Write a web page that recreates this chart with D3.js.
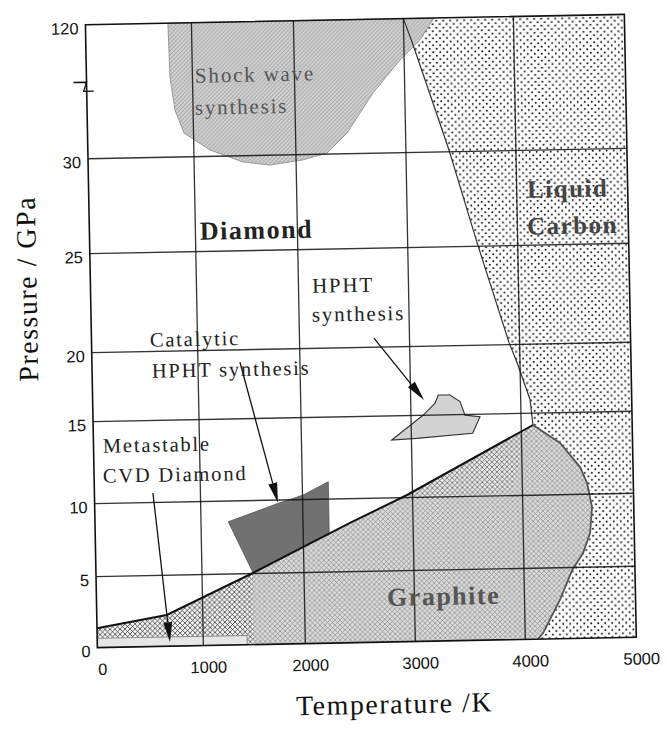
<!DOCTYPE html>
<html><head><meta charset="utf-8">
<script src="https://cdn.jsdelivr.net/npm/d3@7"></script>
<style>body{margin:0;background:#fff}</style>
</head><body><svg id="c" width="668" height="730"></svg>
<script>
// ---- data (Temperature K, Pressure GPa) ----
const xTicks = [0, 1000, 2000, 3000, 4000, 5000];
const yTicks = [0, 5, 10, 15, 20, 25, 30, 120];
const xGrid = [1000, 2000, 3000, 4000];
const yGrid = [5, 10, 15, 20, 25, 30];
const graphiteBoundary = [[0,1.37],[660,2.2],[1500,5.04],[2427,8.34],[2950,10.16],[4106,14.28]];
const meltingCurve = [[4106,14.28],[4347,13.15],[4523,11.66],[4583,10.68],[4624,9.11],[4602,7.34],[4535,5.97],[4435,4.82],[4319,2.73],[4161,0.42],[4115,0]];
const liquidBoundary = [[3000,120],[3075,104.2],[3392,31.2],[3630,25.2],[3904,20.1],[3973,18.7],[4084,16],[4106,14.28]];
const shockWave = [[778,120],[788,83.8],[829,61.6],[910,46],[1158,34.3],[1479,29.67],[1743,29.48],[2063,29.72],[2283,30.7],[2468,43.9],[2711,70.5],[2963,92.3],[3147,105.5],[3278,120]];
const hphtRegion = [[2821,13.53],[3112,15.02],[3221,15.86],[3252,16.45],[3358,16.43],[3448,15.94],[3491,14.96],[3627,14.85],[3558,13.85],[3048,13.6]];
const catalyticRegion = [[1268,8.58],[1761,9.78],[2007,10.28],[2237,11.06],[2236,7.66],[1503,5.02]];
const cvdRegion = [[0,0],[0,0.65],[1430,0.65],[1430,0]];
const darkBand = [[2950,10.16],[4106,14.28],[4000,12.6],[3900,10.3],[3400,9.9],[2950,9.9]];
const arrows = [
  {from:[2677,20.46], to:[3121,16.1]},
  {from:[1412,19.1], to:[1758,9.82]},
  {from:[552,10.58], to:[686,0.29]}
];
const labels = [
  {text:"Shock wave", at:[1025,82.9], bold:false, color:"#555", size:21},
  {text:"synthesis", at:[1019,61.4], bold:false, color:"#555", size:21},
  {text:"Diamond", at:[1044,25.93], bold:true, color:"#222", size:26},
  {text:"Liquid", at:[4093,27.8], bold:true, color:"#444", size:25},
  {text:"Carbon", at:[4087,25.86], bold:true, color:"#444", size:25},
  {text:"HPHT", at:[2123,23.05], bold:false, color:"#222", size:21},
  {text:"synthesis", at:[2117,21.59], bold:false, color:"#222", size:21},
  {text:"Catalytic", at:[551,20.48], bold:false, color:"#222", size:20.5},
  {text:"HPHT synthesis", at:[564,18.44], bold:false, color:"#222", size:20.5},
  {text:"Metastable", at:[89,13.38], bold:false, color:"#222", size:20.5},
  {text:"CVD Diamond", at:[83,11.55], bold:false, color:"#222", size:20.5},
  {text:"Graphite", at:[2750,2.96], bold:true, color:"#555", size:26}
];
const xTitle = "Temperature /K";
const yTitle = "Pressure / GPa";
const breakAt = 78;

// ---- scales ----
const x = d3.scaleLinear().domain(xTicks).range([92,198,300,410,520,631]);
const y = d3.scaleLinear().domain(yTicks).range([643,572,499,417,348,249,154,20]);
const line = d3.line().x(d=>x(d[0])).y(d=>y(d[1]));

const svg = d3.select('#c');
const defs = svg.append('defs');
let p = defs.append('pattern').attr('id','dots').attr('width',7).attr('height',7).attr('patternUnits','userSpaceOnUse');
p.append('rect').attr('width',7).attr('height',7).attr('fill','#fff');
[[1.75,1.75],[5.25,5.25]].forEach(c=>p.append('circle').attr('cx',c[0]).attr('cy',c[1]).attr('r',1.0).attr('fill','#111'));

p = defs.append('pattern').attr('id','ghatch').attr('width',5).attr('height',5).attr('patternUnits','userSpaceOnUse');
p.append('rect').attr('width',5).attr('height',5).attr('fill','#dadada');
p.append('path').attr('d','M0,0L5,5M5,0L0,5').attr('stroke','#8a8a8a').attr('stroke-width',0.7);

p = defs.append('pattern').attr('id','dhatch').attr('width',5).attr('height',5).attr('patternUnits','userSpaceOnUse');
p.append('rect').attr('width',5).attr('height',5).attr('fill','#f4f4f4');
p.append('path').attr('d','M0,0L5,5M5,0L0,5').attr('stroke','#222').attr('stroke-width',0.7);

p = defs.append('pattern').attr('id','shatch').attr('width',4).attr('height',4).attr('patternUnits','userSpaceOnUse');
p.append('rect').attr('width',4).attr('height',4).attr('fill','#d2d2d2');
p.append('path').attr('d','M0,4L4,0M-1,1L1,-1M3,5L5,3').attr('stroke','#9a9a9a').attr('stroke-width',0.8);
p.append('path').attr('d','M0,0L4,4').attr('stroke','#b0b0b0').attr('stroke-width',0.5);

const g = svg.append('g').attr('transform','rotate(-1.1,334,365)');

const liquidPoly = [...liquidBoundary, ...meltingCurve.slice(1), [5000,0],[5000,120]];
g.append('path').attr('d', line(liquidPoly)+'Z').attr('fill','url(#dots)');

const graphitePoly = [[0,0], ...graphiteBoundary, ...meltingCurve.slice(1)];
g.append('path').attr('d', line(graphitePoly)+'Z').attr('fill','url(#ghatch)');
const leftPart = [[0,0], ...graphiteBoundary.filter(d=>d[0]<=1500), [1500,0]];
g.append('path').attr('d', line(leftPart)+'Z').attr('fill','url(#dhatch)');
g.append('path').attr('d', line(darkBand)+'Z').attr('fill','url(#dhatch)').attr('opacity',0.55);

g.append('path').attr('d', line(cvdRegion)+'Z').attr('fill','#e6e6e6').attr('stroke','#888').attr('stroke-width',1);
g.append('path').attr('d', line(shockWave)+'Z').attr('fill','url(#shatch)').attr('stroke','#888').attr('stroke-width',0.8);
g.append('path').attr('d', line(hphtRegion)+'Z').attr('fill','#d3d3d3').attr('stroke','#333').attr('stroke-width',1.1);
g.append('path').attr('d', line(catalyticRegion)+'Z').attr('fill','#717171').attr('stroke','#555').attr('stroke-width',0.8);

g.append('path').attr('d', line(graphiteBoundary)).attr('fill','none').attr('stroke','#111').attr('stroke-width',2);
g.append('path').attr('d', line(meltingCurve)).attr('fill','none').attr('stroke','#555').attr('stroke-width',1.8);
g.append('path').attr('d', line(liquidBoundary)).attr('fill','none').attr('stroke','#333').attr('stroke-width',1.2);

g.selectAll('.vg').data(xGrid).join('line').attr('x1',d=>x(d)).attr('x2',d=>x(d)).attr('y1',y(0)).attr('y2',y(120))
  .attr('stroke','#111').attr('stroke-width',1.3).attr('opacity',0.85);
g.selectAll('.hg').data(yGrid).join('line').attr('x1',x(0)).attr('x2',x(5000)).attr('y1',d=>y(d)).attr('y2',d=>y(d))
  .attr('stroke','#111').attr('stroke-width',1.4).attr('opacity',0.85);
g.append('rect').attr('x',x(0)).attr('y',y(120)).attr('width',x(5000)-x(0)).attr('height',y(0)-y(120))
  .attr('fill','none').attr('stroke','#111').attr('stroke-width',1.6);

const bx = x(0), by = y(breakAt);
g.append('path').attr('d',`M${bx-13},${by-5}L${bx},${by-5}L${bx-3},${by+4}L${bx+7},${by+4}`)
  .attr('fill','none').attr('stroke','#111').attr('stroke-width',1.3);

g.selectAll('.yt').data(yTicks).join('text').attr('x',x(0)-7).attr('y',d=>y(d)+5)
  .attr('text-anchor','end').attr('dominant-baseline','middle')
  .attr('font-family','Liberation Sans, Arial, sans-serif').attr('font-size',16.5).attr('fill','#111').text(d=>d);
g.selectAll('.xt').data(xTicks).join('text').attr('x',d=>x(d)+5).attr('y',y(0)+23)
  .attr('text-anchor','middle').attr('dominant-baseline','middle')
  .attr('font-family','Liberation Sans, Arial, sans-serif').attr('font-size',16.5).attr('fill','#111').text(d=>d);

g.append('text').attr('x',388).attr('y',708).attr('text-anchor','middle').attr('dominant-baseline','middle')
  .attr('font-family','Liberation Serif, Times New Roman, serif').attr('font-size',28).attr('letter-spacing',1.5).attr('fill','#111').text(xTitle);
g.append('text').attr('transform','translate(31.5,283) rotate(-90)').attr('text-anchor','middle').attr('dominant-baseline','middle')
  .attr('font-family','Liberation Serif, Times New Roman, serif').attr('font-size',28).attr('letter-spacing',1.5).attr('fill','#111').text(yTitle);

labels.forEach(l=>{
  g.append('text').attr('x',x(l.at[0])).attr('y',y(l.at[1])).attr('dominant-baseline','middle')
   .attr('font-family','Liberation Serif, Times New Roman, serif').attr('font-size',l.size)
   .attr('font-weight',l.bold?'bold':'normal').attr('letter-spacing',l.bold?1.5:1.8).attr('fill',l.color).text(l.text);
});

arrows.forEach(a=>{
  const x1=x(a.from[0]), y1=y(a.from[1]), x2=x(a.to[0]), y2=y(a.to[1]);
  const L=Math.hypot(x2-x1,y2-y1), ux=(x2-x1)/L, uy=(y2-y1)/L, nx=-uy, ny=ux;
  const hl=20, hw=4.5;
  const bx2=x2-ux*hl, by2=y2-uy*hl;
  g.append('line').attr('x1',x1).attr('y1',y1).attr('x2',bx2).attr('y2',by2).attr('stroke','#111').attr('stroke-width',1.3);
  g.append('path').attr('d',`M${x2},${y2}L${bx2+nx*hw},${by2+ny*hw}L${bx2-nx*hw},${by2-ny*hw}Z`).attr('fill','#111');
});
</script></body></html>
